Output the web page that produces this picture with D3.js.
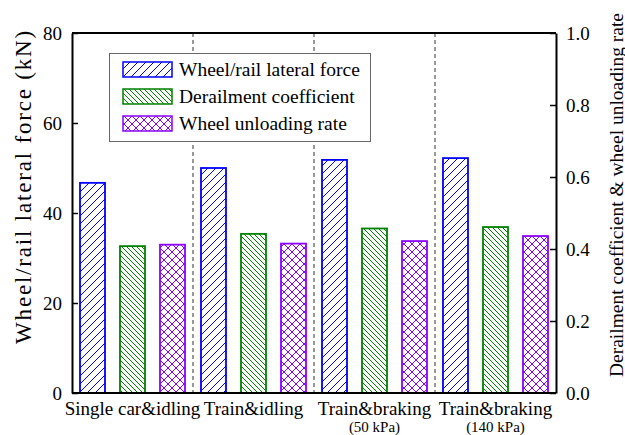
<!DOCTYPE html>
<html>
<head>
<meta charset="utf-8">
<script src="https://cdn.jsdelivr.net/npm/d3@7"></script>
<style>
  html, body { margin: 0; padding: 0; background: #fff; }
  svg { display: block; }
  text { font-family: "Liberation Serif", "Times New Roman", serif; fill: #000; }
</style>
</head>
<body>
<svg id="chart" width="625" height="435"></svg>
<script>
// Operating conditions along the x axis
const categories = ["Single car&idling", "Train&idling", "Train&braking", "Train&braking"];
const subLabels = ["", "", "(50 kPa)", "(140 kPa)"];

// Series values
const lateralForce = [46.7, 50.0, 51.8, 52.2];       // kN, left axis
const derailmentCoef = [0.408, 0.442, 0.457, 0.461]; // right axis
const unloadingRate = [0.412, 0.415, 0.422, 0.436];  // right axis

// Tick labels
const leftTicks = [0, 20, 40, 60, 80];
const rightTicks = [0.0, 0.2, 0.4, 0.6, 0.8, 1.0];

const seriesNames = ["Wheel/rail lateral force", "Derailment coefficient", "Wheel unloading rate"];

const margin = { left: 72, right: 69, top: 33, bottom: 42 };
const W = 625, H = 435;
const x0 = margin.left, x1 = W - margin.right;
const y0 = H - margin.bottom, y1 = margin.top;

const svg = d3.select("#chart");

// Spread a text's letters so that its rendered length equals `len`
function spreadTo(sel, len) {
  const node = sel.node();
  const w = node.getComputedTextLength();
  const n = sel.text().length;
  if (w > 0 && n > 1) sel.attr("letter-spacing", ((len - w) / (n - 1)).toFixed(2));
  return sel;
}
// Scale a text's font size so that its rendered length equals `len`
function fitLength(sel, len) {
  const node = sel.node();
  const fs = parseFloat(sel.attr("font-size"));
  const w = node.getComputedTextLength();
  if (w > 0) sel.attr("font-size", (fs * len / w).toFixed(2));
  return sel;
}

const xGroup = d3.scaleBand().domain(d3.range(categories.length)).range([x0, x1]).padding(0);
const xSeries = d3.scaleBand().domain([0, 1, 2]).range([0, xGroup.bandwidth()])
  .paddingInner(0.375).paddingOuter(0.2);
const yLeft = d3.scaleLinear().domain([0, 80]).range([y0, y1]);
const yRight = d3.scaleLinear().domain([0, 1]).range([y0, y1]);

// Hatch patterns
const defs = svg.append("defs");
function hatch(id, color, size, paths) {
  const p = defs.append("pattern").attr("id", id).attr("patternUnits", "userSpaceOnUse")
    .attr("width", size).attr("height", size);
  p.append("rect").attr("width", size).attr("height", size).attr("fill", "#fff");
  paths.forEach(d => p.append("path").attr("d", d).attr("stroke", color)
    .attr("stroke-width", 1).attr("fill", "none"));
}
const s1 = 8, s2 = 5, s3 = 8;
hatch("hBlue", "#0000ff", s1, [`M0,${s1} L${s1},0`, `M${-s1/2},${s1/2} L${s1/2},${-s1/2}`, `M${s1/2},${s1*1.5} L${s1*1.5},${s1/2}`]);
hatch("hGreen", "#008000", s2, [`M0,0 L${s2},${s2}`, `M${-s2/2},${s2/2} L${s2/2},${s2*1.5}`, `M${s2/2},${-s2/2} L${s2*1.5},${s2/2}`]);
hatch("hPurple", "#8c00ff", s3, [`M0,${s3} L${s3},0`, `M0,0 L${s3},${s3}`,
  `M${-s3/2},${s3/2} L${s3/2},${-s3/2}`, `M${s3/2},${s3*1.5} L${s3*1.5},${s3/2}`,
  `M${-s3/2},${s3/2} L${s3/2},${s3*1.5}`, `M${s3/2},${-s3/2} L${s3*1.5},${s3/2}`]);

const series = [
  { values: lateralForce, scale: yLeft, color: "#0000ff", fill: "url(#hBlue)" },
  { values: derailmentCoef, scale: yRight, color: "#008000", fill: "url(#hGreen)" },
  { values: unloadingRate, scale: yRight, color: "#8c00ff", fill: "url(#hPurple)" }
];

// Dashed group separators
svg.append("g").selectAll("line").data(d3.range(1, categories.length)).join("line")
  .attr("x1", i => xGroup(i)).attr("x2", i => xGroup(i))
  .attr("y1", y1).attr("y2", y0 + 4)
  .attr("stroke", "#333").attr("stroke-width", 1).attr("stroke-dasharray", "4,3");

// Bars
series.forEach((s, k) => {
  svg.append("g").selectAll("rect").data(s.values).join("rect")
    .attr("x", (d, i) => xGroup(i) + xSeries(k))
    .attr("width", xSeries.bandwidth())
    .attr("y", d => s.scale(d))
    .attr("height", d => y0 - s.scale(d))
    .attr("fill", s.fill).attr("stroke", s.color).attr("stroke-width", 1.8);
});

// Axes
const axL = svg.append("g").attr("transform", `translate(${x0},0)`)
  .call(d3.axisLeft(yLeft).tickValues(leftTicks).tickSizeInner(-6).tickSizeOuter(0).tickPadding(10).tickFormat(d3.format("d")));
const axR = svg.append("g").attr("transform", `translate(${x1},0)`)
  .call(d3.axisRight(yRight).tickValues(rightTicks).tickSizeInner(-6).tickSizeOuter(0).tickPadding(10).tickFormat(d3.format(".1f")));
[axL, axR].forEach(a => {
  a.select(".domain").attr("stroke", "#000").attr("stroke-width", 2);
  a.selectAll(".tick line").attr("stroke", "#000").attr("stroke-width", 1.5);
  a.selectAll(".tick text").attr("font-size", 19).attr("font-family", "Liberation Serif, serif").attr("fill", "#000");
});
svg.append("line").attr("x1", x0).attr("x2", x1).attr("y1", y0).attr("y2", y0).attr("stroke", "#000").attr("stroke-width", 2);
svg.append("line").attr("x1", x0).attr("x2", x1).attr("y1", y1).attr("y2", y1).attr("stroke", "#000").attr("stroke-width", 2);

// Category labels
const catG = svg.append("g");
categories.forEach((c, i) => {
  const cx = xGroup(i) + xGroup.bandwidth() / 2;
  catG.append("text").attr("x", cx).attr("y", 415).attr("text-anchor", "middle")
    .attr("font-size", 19).text(c);
  if (subLabels[i]) {
    catG.append("text").attr("x", cx).attr("y", 432).attr("text-anchor", "middle")
      .attr("font-size", 15).text(subLabels[i]);
  }
});

// Axis titles
const tl = svg.append("text").attr("transform", `translate(23,186.5) rotate(-90)`)
  .attr("text-anchor", "middle").attr("dominant-baseline", "central").attr("font-size", 23)
  .text("Wheel/rail lateral force (kN)");
spreadTo(tl, 313);
const tr = svg.append("text").attr("transform", `translate(616,195) rotate(-90)`)
  .attr("text-anchor", "middle").attr("dominant-baseline", "central").attr("font-size", 20)
  .text("Derailment coefficient & wheel unloading rate");
fitLength(tr, 364);

// Legend
const lg = svg.append("g");
lg.append("rect").attr("x", 109.5).attr("y", 53.5).attr("width", 261).attr("height", 88)
  .attr("fill", "#fff").attr("stroke", "#666").attr("stroke-width", 1);
series.forEach((s, k) => {
  const ly = 62 + k * 27;
  lg.append("rect").attr("x", 123).attr("y", ly).attr("width", 49).attr("height", 15)
    .attr("fill", s.fill).attr("stroke", s.color).attr("stroke-width", 1.5);
  lg.append("text").attr("x", 179).attr("y", ly + 14).attr("font-size", 19.5).text(seriesNames[k]);
});
</script>
</body>
</html>
